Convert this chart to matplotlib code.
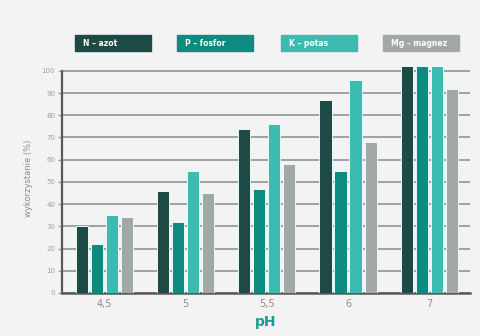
import numpy as np
import matplotlib
matplotlib.use("Agg")
import matplotlib.pyplot as plt
from matplotlib.patches import Rectangle

ph_labels = ["4,5", "5", "5,5", "6", "7"]
series_names = ["N – azot", "P – fosfor", "K – potas", "Mg – magnez"]
azot = [30, 46, 74, 87, 102]
fosfor = [22, 32, 47, 55, 102]
potas = [35, 55, 76, 96, 102]
magnez = [34, 45, 58, 68, 92]
colors = ["#1e4a46", "#0e8b80", "#3cbcb1", "#a2a7a7"]

bg = "#f3f3f3"
fig = plt.figure(figsize=(4.81, 3.36), dpi=100, facecolor=bg)
ax = fig.add_axes([0.129, 0.128, 0.848, 0.681], facecolor=bg)

x = np.arange(len(ph_labels))
pitch = 0.185
width = 0.15
for i, vals in enumerate([azot, fosfor, potas, magnez]):
    ax.bar(x + (i - 1.5) * pitch, vals, width, color=colors[i],
           edgecolor="#e6fbf8", linewidth=0.7, zorder=3)

ax.set_xlim(-0.52, 4.5)
ax.set_ylim(0, 103)
ax.set_yticks(range(0, 101, 10))
ax.set_xticks(x)
ax.set_xticklabels(ph_labels)
ax.yaxis.grid(True, color="#9a9a9a", linewidth=1.3, zorder=0)
ax.set_axisbelow(True)

for s in ["top", "right"]:
    ax.spines[s].set_visible(False)
ax.spines["left"].set_bounds(0, 100)
ax.spines["left"].set_color("#5a5a5a")
ax.spines["left"].set_linewidth(1.6)
ax.spines["bottom"].set_color("#5a5a5a")
ax.spines["bottom"].set_linewidth(1.8)
ax.tick_params(axis="y", colors="#a0a0a0", labelsize=5, length=3, width=1,
               pad=2)
ax.tick_params(axis="x", colors="#a08585", labelsize=7, length=0, pad=4)

ax.set_ylabel("wykorzystanie (%)", color="#8c8c8c", fontsize=6, labelpad=6)
ax.set_xlabel("pH", color="#1a9a90", fontsize=10, fontweight="bold",
              labelpad=5)

# legend boxes across the top
box_left = [75, 177, 281, 383]
for left, name, c in zip(box_left, series_names, colors):
    fx, fy = left / 481, 1 - 51 / 336
    fig.patches.append(Rectangle((fx, fy), 76 / 481, 16 / 336,
                                 transform=fig.transFigure, color=c))
    fig.text(fx + 8 / 481, fy + 8 / 336, name, color="white", fontsize=5.5,
             fontweight="bold", va="center", ha="left")

fig.savefig("out.png", dpi=100, facecolor=bg)
